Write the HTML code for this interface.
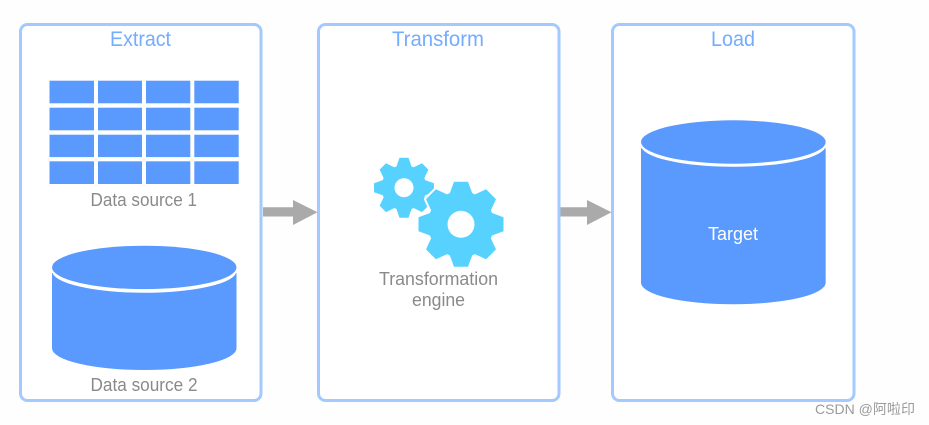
<!DOCTYPE html>
<html>
<head>
<meta charset="utf-8">
<style>
html,body{margin:0;padding:0;background:#fff;width:929px;height:425px;overflow:hidden}
svg{display:block}
text{font-family:"Liberation Sans","Noto Sans CJK SC",sans-serif}
.h{font-size:21.5px;fill:#74acff}
.l{font-size:18px;fill:#8a8a8a}
</style>
</head>
<body>
<svg width="929" height="425" viewBox="0 0 929 425" xmlns="http://www.w3.org/2000/svg">
<rect width="929" height="425" fill="#fffefe"/>
<g fill="#fff" stroke="#a3c9ff" stroke-width="3">
<rect x="20.5" y="24.5" width="240.5" height="376" rx="7"/>
<rect x="318.5" y="24.5" width="240.5" height="376" rx="7"/>
<rect x="612.5" y="24.5" width="241.5" height="376" rx="7"/>
</g>
<text class="h" x="110" y="46" textLength="61" lengthAdjust="spacingAndGlyphs">Extract</text>
<text class="h" x="392" y="46" textLength="92" lengthAdjust="spacingAndGlyphs">Transform</text>
<text class="h" x="711" y="46" textLength="44" lengthAdjust="spacingAndGlyphs">Load</text>
<g fill="#5a9aff">
<rect x="49.5" y="80.7" width="44.5" height="22.6"/><rect x="98" y="80.7" width="44" height="22.6"/><rect x="146" y="80.7" width="44.3" height="22.6"/><rect x="194.3" y="80.7" width="44.4" height="22.6"/>
<rect x="49.5" y="107.7" width="44.5" height="22.6"/><rect x="98" y="107.7" width="44" height="22.6"/><rect x="146" y="107.7" width="44.3" height="22.6"/><rect x="194.3" y="107.7" width="44.4" height="22.6"/>
<rect x="49.5" y="134.7" width="44.5" height="22.4"/><rect x="98" y="134.7" width="44" height="22.4"/><rect x="146" y="134.7" width="44.3" height="22.4"/><rect x="194.3" y="134.7" width="44.4" height="22.4"/>
<rect x="49.5" y="161.3" width="44.5" height="22.7"/><rect x="98" y="161.3" width="44" height="22.7"/><rect x="146" y="161.3" width="44.3" height="22.7"/><rect x="194.3" y="161.3" width="44.4" height="22.7"/>
</g>
<text class="l" x="90.5" y="206" textLength="106.5" lengthAdjust="spacingAndGlyphs">Data source 1</text>
<!-- cylinder 1 -->
<path d="M52 273H236.5V348.3A92.25 21.7 0 0 1 52 348.3Z" fill="#5a9aff"/>
<ellipse cx="144.25" cy="271" rx="92.25" ry="21.8" fill="#fff"/>
<ellipse cx="144.25" cy="267.4" rx="92.25" ry="21.7" fill="#5a9aff"/>
<text class="l" x="90.5" y="391" textLength="107" lengthAdjust="spacingAndGlyphs">Data source 2</text>
<!-- arrows -->
<path d="M263 207.3H293V200L317.5 212.3L293 225V216.5H263Z" fill="#aaaaaa"/>
<path d="M560.5 207.3H587V200L611.5 212.3L587 225V216.5H560.5Z" fill="#aaaaaa"/>
<!-- small gear -->
<g fill="#57d2ff" transform="translate(404 187.7)">
<circle r="22.5"/>
<path d="M-8 -20L-4.5 -30H4.5L8 -20Z"/>
<path d="M-8 -20L-4.5 -30H4.5L8 -20Z" transform="rotate(45)"/>
<path d="M-8 -20L-4.5 -30H4.5L8 -20Z" transform="rotate(90)"/>
<path d="M-8 -20L-4.5 -30H4.5L8 -20Z" transform="rotate(135)"/>
<path d="M-8 -20L-4.5 -30H4.5L8 -20Z" transform="rotate(180)"/>
<path d="M-8 -20L-4.5 -30H4.5L8 -20Z" transform="rotate(225)"/>
<path d="M-8 -20L-4.5 -30H4.5L8 -20Z" transform="rotate(270)"/>
<path d="M-8 -20L-4.5 -30H4.5L8 -20Z" transform="rotate(315)"/>
<circle r="9.5" fill="#fff"/>
</g>
<!-- big gear -->
<g transform="translate(461 224.3)">
<g fill="#fff" stroke="#fff" stroke-width="4" stroke-linejoin="round">
<circle r="33"/>
<path d="M-12 -29L-7 -42.5H7L12 -29Z"/>
<path d="M-12 -29L-7 -42.5H7L12 -29Z" transform="rotate(45)"/>
<path d="M-12 -29L-7 -42.5H7L12 -29Z" transform="rotate(270)"/>
<path d="M-12 -29L-7 -42.5H7L12 -29Z" transform="rotate(315)"/>
</g>
<g fill="#57d2ff">
<circle r="33"/>
<path d="M-12 -29L-7 -42.5H7L12 -29Z"/>
<path d="M-12 -29L-7 -42.5H7L12 -29Z" transform="rotate(45)"/>
<path d="M-12 -29L-7 -42.5H7L12 -29Z" transform="rotate(90)"/>
<path d="M-12 -29L-7 -42.5H7L12 -29Z" transform="rotate(135)"/>
<path d="M-12 -29L-7 -42.5H7L12 -29Z" transform="rotate(180)"/>
<path d="M-12 -29L-7 -42.5H7L12 -29Z" transform="rotate(225)"/>
<path d="M-12 -29L-7 -42.5H7L12 -29Z" transform="rotate(270)"/>
<path d="M-12 -29L-7 -42.5H7L12 -29Z" transform="rotate(315)"/>
<circle r="13.5" fill="#fff"/>
</g>
</g>
<text class="l" x="379" y="285" textLength="119" lengthAdjust="spacingAndGlyphs">Transformation</text>
<text class="l" x="412" y="306" textLength="53" lengthAdjust="spacingAndGlyphs">engine</text>
<!-- target cylinder -->
<path d="M641 148.3H825.7V282.7A92.35 21.6 0 0 1 641 282.7Z" fill="#5a9aff"/>
<ellipse cx="733.35" cy="145.5" rx="92.35" ry="21.3" fill="#fff"/>
<ellipse cx="733.35" cy="142" rx="92.35" ry="21.7" fill="#5a9aff"/>
<text x="708" y="240" font-size="18" fill="#fff" textLength="50" lengthAdjust="spacingAndGlyphs">Target</text>
<text x="815" y="414" font-size="14" fill="#9a9a9a" textLength="100" lengthAdjust="spacingAndGlyphs">CSDN @阿啦印</text>
</svg>
</body>
</html>
